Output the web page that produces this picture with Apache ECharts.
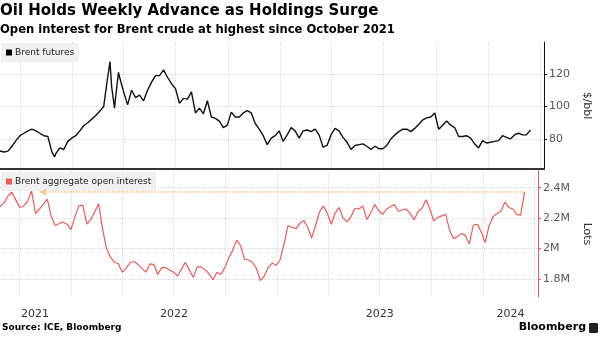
<!DOCTYPE html>
<html>
<head>
<meta charset="utf-8">
<script src="https://cdn.jsdelivr.net/npm/echarts@6/dist/echarts.min.js"></script>
<style>
html, body { margin: 0; padding: 0; background: #fff; }
#chart { width: 600px; height: 337px; }
</style>
</head>
<body>
<div id="chart"></div>
<script>
// weekly closes (Fridays), Aug 2021 - Mar 2024
var weeks = [
  '2021-08-27', '2021-09-03', '2021-09-10', '2021-09-17', '2021-09-24', '2021-10-01', '2021-10-08', '2021-10-15', '2021-10-22', '2021-10-29',
  '2021-11-05', '2021-11-12', '2021-11-19', '2021-11-26', '2021-12-03', '2021-12-10', '2021-12-17', '2021-12-24', '2021-12-31', '2022-01-07',
  '2022-01-14', '2022-01-21', '2022-01-28', '2022-02-04', '2022-02-11', '2022-02-18', '2022-02-25', '2022-03-04', '2022-03-11', '2022-03-18',
  '2022-03-25', '2022-04-01', '2022-04-08', '2022-04-15', '2022-04-22', '2022-04-29', '2022-05-06', '2022-05-13', '2022-05-20', '2022-05-27',
  '2022-06-03', '2022-06-10', '2022-06-17', '2022-06-24', '2022-07-01', '2022-07-08', '2022-07-15', '2022-07-22', '2022-07-29', '2022-08-05',
  '2022-08-12', '2022-08-19', '2022-08-26', '2022-09-02', '2022-09-09', '2022-09-16', '2022-09-23', '2022-09-30', '2022-10-07', '2022-10-14',
  '2022-10-21', '2022-10-28', '2022-11-04', '2022-11-11', '2022-11-18', '2022-11-25', '2022-12-02', '2022-12-09', '2022-12-16', '2022-12-23',
  '2022-12-30', '2023-01-06', '2023-01-13', '2023-01-20', '2023-01-27', '2023-02-03', '2023-02-10', '2023-02-17', '2023-02-24', '2023-03-03',
  '2023-03-10', '2023-03-17', '2023-03-24', '2023-03-31', '2023-04-07', '2023-04-14', '2023-04-21', '2023-04-28', '2023-05-05', '2023-05-12',
  '2023-05-19', '2023-05-26', '2023-06-02', '2023-06-09', '2023-06-16', '2023-06-23', '2023-06-30', '2023-07-07', '2023-07-14', '2023-07-21',
  '2023-07-28', '2023-08-04', '2023-08-11', '2023-08-18', '2023-08-25', '2023-09-01', '2023-09-08', '2023-09-15', '2023-09-22', '2023-09-29',
  '2023-10-06', '2023-10-13', '2023-10-20', '2023-10-27', '2023-11-03', '2023-11-10', '2023-11-17', '2023-11-24', '2023-12-01', '2023-12-08',
  '2023-12-15', '2023-12-22', '2023-12-29', '2024-01-05', '2024-01-12', '2024-01-19', '2024-01-26', '2024-02-02', '2024-02-09', '2024-02-16',
  '2024-02-23', '2024-03-01', '2024-03-08', '2024-03-15'
];

// Brent futures, $/bbl
var brentPrice = [
  72.6, 72, 72.5, 75.5, 79, 82, 83.5, 85, 86, 85,
  83.5, 82, 81.5, 72, 71, 74.5, 73.5, 78.5, 80.5, 82,
  85, 88.3, 90, 92.2, 94.5, 97, 100, 118, 112, 106,
  118, 109, 101, 110, 105.5, 107, 103.5, 110, 115, 119,
  119, 122.5, 118, 114, 111, 102, 105, 104.5, 109, 96,
  99, 95.5, 103.5, 93.5, 92.7, 91, 87, 88.5, 96.5, 93.5,
  93.5, 96, 97.5, 96, 89.5, 86, 82, 76.5, 80.5, 82,
  85, 78.5, 82.5, 87, 85, 80.5, 85, 85.5, 84.5, 86,
  82.5, 75, 76, 82.5, 86.5, 85, 81, 78, 73.5, 76,
  76.5, 77, 75.5, 73.5, 75.5, 74, 74, 76, 80, 82.5,
  84.5, 86, 86, 84.5, 86.5, 89, 91.7, 93, 93.5, 96,
  86, 88.5, 91, 88.5, 87, 81.5, 81.5, 82, 80.5, 77,
  74.5, 79, 77.5, 78, 78.5, 79, 82, 81, 80, 82.5,
  83.5, 82.5, 82.5, 85.5
];

// mid-week swings the weekly closes miss
var priceSwingDates = ['2021-12-01', '2022-03-08', '2022-03-16', '2022-03-23'];
var priceSwingValues = [69, 127.6, 99, 121];

// Brent aggregate open interest, million lots
var openInterest = [
  2.275, 2.30, 2.345, 2.37, 2.32, 2.27, 2.28, 2.31, 2.38, 2.23,
  2.26, 2.29, 2.325, 2.21, 2.15, 2.165, 2.175, 2.16, 2.125, 2.21,
  2.28, 2.285, 2.16, 2.19, 2.24, 2.295, 2.13, 2.00, 1.945, 1.91,
  1.90, 1.845, 1.87, 1.91, 1.915, 1.895, 1.87, 1.845, 1.90, 1.895,
  1.83, 1.875, 1.875, 1.86, 1.845, 1.82, 1.865, 1.91, 1.86, 1.81,
  1.88, 1.88, 1.86, 1.835, 1.795, 1.845, 1.83, 1.875, 1.94, 1.99,
  2.055, 2.02, 1.93, 1.925, 1.91, 1.87, 1.79, 1.82, 1.875, 1.905,
  1.89, 1.925, 2.03, 2.15, 2.14, 2.13, 2.165, 2.185, 2.14, 2.07,
  2.15, 2.24, 2.28, 2.23, 2.16, 2.235, 2.27, 2.20, 2.175, 2.21,
  2.265, 2.26, 2.28, 2.19, 2.235, 2.29, 2.25, 2.225, 2.26, 2.275,
  2.29, 2.245, 2.255, 2.26, 2.23, 2.19, 2.243, 2.265, 2.32, 2.26,
  2.18, 2.205, 2.215, 2.225, 2.12, 2.065, 2.08, 2.10, 2.085, 2.03,
  2.155, 2.16, 2.11, 2.04, 2.15, 2.21, 2.23, 2.245, 2.305, 2.27,
  2.26, 2.225, 2.22, 2.372
];

// quarterly grid lines and year labels (labels sit mid-year)
var quarterTicks = ['2021-10-01', '2022-01-01', '2022-04-01', '2022-07-01', '2022-10-01',
  '2023-01-01', '2023-04-01', '2023-07-01', '2023-10-01', '2024-01-01', '2024-04-01'];
var yearLabelDates = ['2021-10-28', '2022-07-02', '2023-07-02', '2024-02-19'];

var xStart = '2021-08-27';
var xEnd = '2024-04-08';
var oiLevelFrom = '2021-11-06';
var oiLevel = 2.372;

function ts(d) { return new Date(d + 'T00:00:00').getTime(); }

var chart = echarts.init(document.getElementById('chart'));

var pricePoints = weeks.map(function (d, i) { return [ts(d), brentPrice[i]]; })
  .concat(priceSwingDates.map(function (d, i) { return [ts(d), priceSwingValues[i]]; }))
  .sort(function (a, b) { return a[0] - b[0]; });
var oiPoints = weeks.map(function (d, i) { return [ts(d), openInterest[i]]; });

var font = "'DejaVu Sans', sans-serif";
var gridLine = { show: true, lineStyle: { color: '#d8d8d8', type: 'dotted', width: 1 } };
var red = '#f05a5a';

var option = {
  animation: false,
  backgroundColor: '#fff',
  textStyle: { fontFamily: font },
  title: [
    { text: 'Oil Holds Weekly Advance as Holdings Surge', left: 0, top: 4, padding: 0,
      textStyle: { fontSize: 15, fontWeight: 'bold', color: '#000', fontFamily: font } },
    { text: 'Open interest for Brent crude at highest since October 2021', left: 0, top: 24, padding: 0,
      textStyle: { fontSize: 11.6, fontWeight: 'bold', color: '#000', fontFamily: font } },
    { text: 'Source: ICE, Bloomberg', left: 2, top: 323, padding: 0,
      textStyle: { fontSize: 9, fontWeight: 'bold', color: '#000', fontFamily: font } },
    { text: 'Bloomberg', right: 14, top: 322, padding: 0,
      textStyle: { fontSize: 11, fontWeight: 'bold', color: '#000', fontFamily: font } }
  ],
  graphic: [
    { type: 'rect', right: 2, top: 323, shape: { width: 9, height: 10, r: 1 }, style: { fill: '#222' } }
  ],
  legend: [
    { data: ['Brent futures'], left: 1, top: 43, icon: 'rect', itemWidth: 6, itemHeight: 6, itemGap: 4,
      backgroundColor: '#f0f0f0', padding: [5, 5, 5, 5], selectedMode: false,
      textStyle: { fontSize: 9, color: '#222', padding: [0, 0, 0, -2] } },
    { data: ['Brent aggregate open interest'], left: 1, top: 172, icon: 'rect', itemWidth: 6, itemHeight: 6, itemGap: 4,
      backgroundColor: '#f0f0f0', padding: [5, 5, 5, 5], selectedMode: false,
      textStyle: { fontSize: 9, color: '#222', padding: [0, 0, 0, -2] } }
  ],
  grid: [
    { left: 0, right: 44, top: 42, height: 127 },
    { left: 0, right: 44, top: 171, height: 126 }
  ],
  xAxis: [
    {
      type: 'value', gridIndex: 0, min: ts(xStart), max: ts(xEnd),
      axisLine: { show: true, onZero: false, lineStyle: { color: '#333', width: 2 } },
      axisTick: { show: false, customValues: quarterTicks.map(ts) },
      axisLabel: { show: false },
      splitLine: gridLine
    },
    {
      type: 'value', gridIndex: 1, min: ts(xStart), max: ts(xEnd),
      axisLine: { show: false, onZero: false },
      axisTick: { show: false, customValues: quarterTicks.map(ts) },
      axisLabel: {
        customValues: yearLabelDates.map(ts), margin: 12, fontSize: 11, color: '#333',
        formatter: function (v) { return String(new Date(v).getFullYear()); }
      },
      splitLine: gridLine
    }
  ],
  yAxis: [
    {
      type: 'value', gridIndex: 0, position: 'right', min: 61.5, max: 139.7, splitNumber: 5,
      name: '$/bbl', nameLocation: 'middle', nameRotate: -90, nameGap: 30,
      nameTextStyle: { fontSize: 11, color: '#333' },
      axisLine: { show: true, lineStyle: { color: '#111' } },
      axisTick: { show: true, length: 3, lineStyle: { color: '#111' } },
      axisLabel: { showMinLabel: false, showMaxLabel: false, fontSize: 11, color: '#555', margin: 5 },
      splitLine: { show: true, showMinLine: false, showMaxLine: false, lineStyle: { color: '#d8d8d8', type: 'dotted' } }
    },
    {
      type: 'value', gridIndex: 1, position: 'right', min: 1.682, max: 2.5095, splitNumber: 5,
      name: 'Lots', nameLocation: 'middle', nameRotate: -90, nameGap: 30,
      nameTextStyle: { fontSize: 11, color: '#333' },
      axisLine: { show: true, lineStyle: { color: red } },
      axisTick: { show: true, length: 3, lineStyle: { color: red } },
      axisLabel: {
        showMinLabel: false, showMaxLabel: false, fontSize: 11, color: '#555', margin: 5,
        formatter: function (v) { return (Math.round(v * 10) / 10) + 'M'; }
      },
      splitLine: { show: true, showMinLine: false, showMaxLine: false, lineStyle: { color: '#d8d8d8', type: 'dotted' } }
    }
  ],
  series: [
    {
      name: 'Brent futures', type: 'line', xAxisIndex: 0, yAxisIndex: 0,
      data: pricePoints, symbol: 'none',
      lineStyle: { color: '#111', width: 1.4 }, itemStyle: { color: '#000' }
    },
    {
      name: 'Brent aggregate open interest', type: 'line', xAxisIndex: 1, yAxisIndex: 1,
      data: oiPoints, symbol: 'none',
      lineStyle: { color: red, width: 1.2 }, itemStyle: { color: red },
      markLine: {
        silent: true, symbol: ['arrow', 'none'], symbolSize: [6, 7],
        label: { show: false },
        lineStyle: { color: '#f5c37c', type: 'dotted', width: 1.5 },
        data: [[{ coord: [ts(oiLevelFrom), oiLevel] }, { coord: [ts(weeks[weeks.length - 1]), oiLevel] }]]
      }
    }
  ]
};

chart.setOption(option);
</script>
</body>
</html>
